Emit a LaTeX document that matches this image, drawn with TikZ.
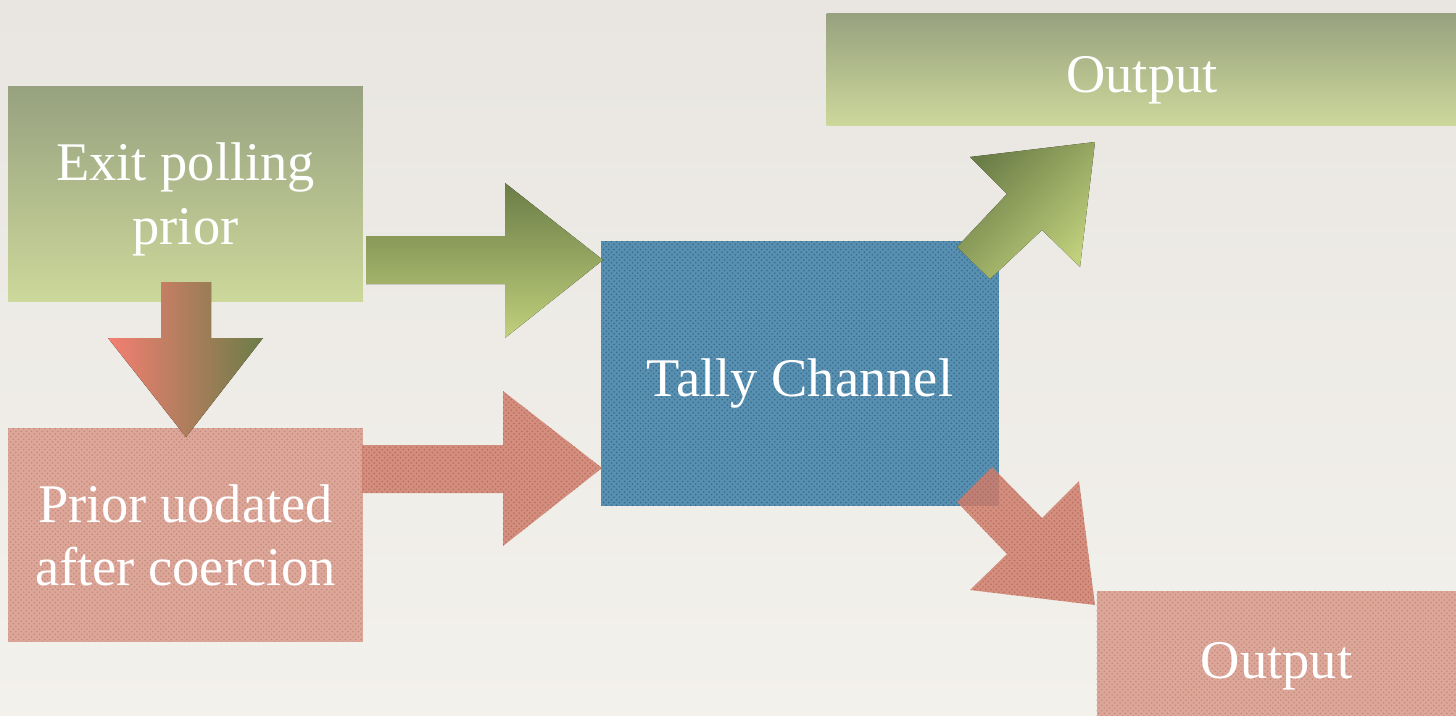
\documentclass[tikz,border=0pt]{standalone}
\usepackage{fontspec}
\setmainfont{Liberation Serif}
\usepackage{tikz}
\usetikzlibrary{positioning, calc, patterns}
\usepackage{xcolor}

\definecolor{paperTop}{HTML}{E9E6E1}
\definecolor{paperBot}{HTML}{F3F1EC}
\definecolor{sageTop}{HTML}{97A17F}
\definecolor{sageBot}{HTML}{CDD89B}
\definecolor{oliveDark}{HTML}{6B7D47}
\definecolor{oliveLight}{HTML}{C0D07C}
\definecolor{salmonBox}{HTML}{DCA699}
\definecolor{salmonDots}{HTML}{C4897A}
\definecolor{salmonArrow}{HTML}{D07E6C}
\definecolor{salmonArrowDots}{HTML}{B4665A}
\definecolor{salmonBright}{HTML}{F47E72}
\definecolor{tallyBlue}{HTML}{5890B2}
\definecolor{tallyDots}{HTML}{38698A}

\begin{document}
\begin{tikzpicture}[
  x=0.02cm, y=-0.02cm,
  lbl/.style={font=\fontsize{31}{36}\selectfont, text=white, align=center},
  oneline/.style={text height=0.94cm, text depth=0pt},
  greenbox/.style={lbl, rectangle, top color=sageTop, bottom color=sageBot},
  redbox/.style={lbl, rectangle, fill=salmonBox,
                 postaction={pattern=crosshatch dots, pattern color=salmonDots}},
  bluebox/.style={lbl, rectangle, fill=tallyBlue,
                  postaction={pattern=crosshatch dots, pattern color=tallyDots}},
  greenarrow/.style={top color=oliveDark, bottom color=oliveLight},
  redarrow/.style={fill=salmonArrow, fill opacity=0.85,
                   postaction={pattern=crosshatch dots, pattern color=salmonArrowDots}}
]
  \useasboundingbox (0,0) rectangle (1456,716);
  \clip (0,0) rectangle (1456,716);
  \fill[top color=paperTop, bottom color=paperBot] (0,0) rectangle (1456,716);

  \node[greenbox, minimum width=7.1cm, minimum height=4.32cm] (EP) at (185.5,194)
    {\rule{0pt}{0.97cm}Exit polling\\prior};
  \node[redbox, minimum width=7.1cm, minimum height=4.28cm] (PU) at (185.5,535)
    {Prior uodated\\after coercion};
  \node[bluebox, oneline, minimum width=7.96cm, minimum height=5.3cm] (TC) at (800,373.5)
    {Tally Channel};
  \node[greenbox, oneline, minimum width=12.62cm, minimum height=2.26cm] (OG) at (1142,69.5)
    {Output};
  \node[redbox, oneline, minimum width=7.2cm, minimum height=2.56cm] (OR) at (1276.5,655)
    {Output};

  \fill[left color=salmonBright, right color=oliveDark]
    (161,282) -- (211,282) -- (211,338) -- (263,338) -- (186,437)
    -- (108,338) -- (161,338) -- cycle;
  \fill[greenarrow]
    (366,236) -- (505,236) -- (505,183) -- (603,260) -- (505,338)
    -- (505,284) -- (366,284) -- cycle;
  \fill[redarrow]
    (362,445) -- (503,445) -- (503,391) -- (602,468) -- (503,546)
    -- (503,493) -- (362,493) -- cycle;
  \fill[greenarrow, shading angle=45]
    (957,247) -- (1007,194) -- (970,157) -- (1095,142) -- (1080,267)
    -- (1042,230) -- (990,279) -- cycle;
  \fill[redarrow]
    (992,467) -- (1042,518) -- (1079,481) -- (1095,605) -- (970,590)
    -- (1007,554) -- (957,502) -- cycle;
\end{tikzpicture}
\end{document}
